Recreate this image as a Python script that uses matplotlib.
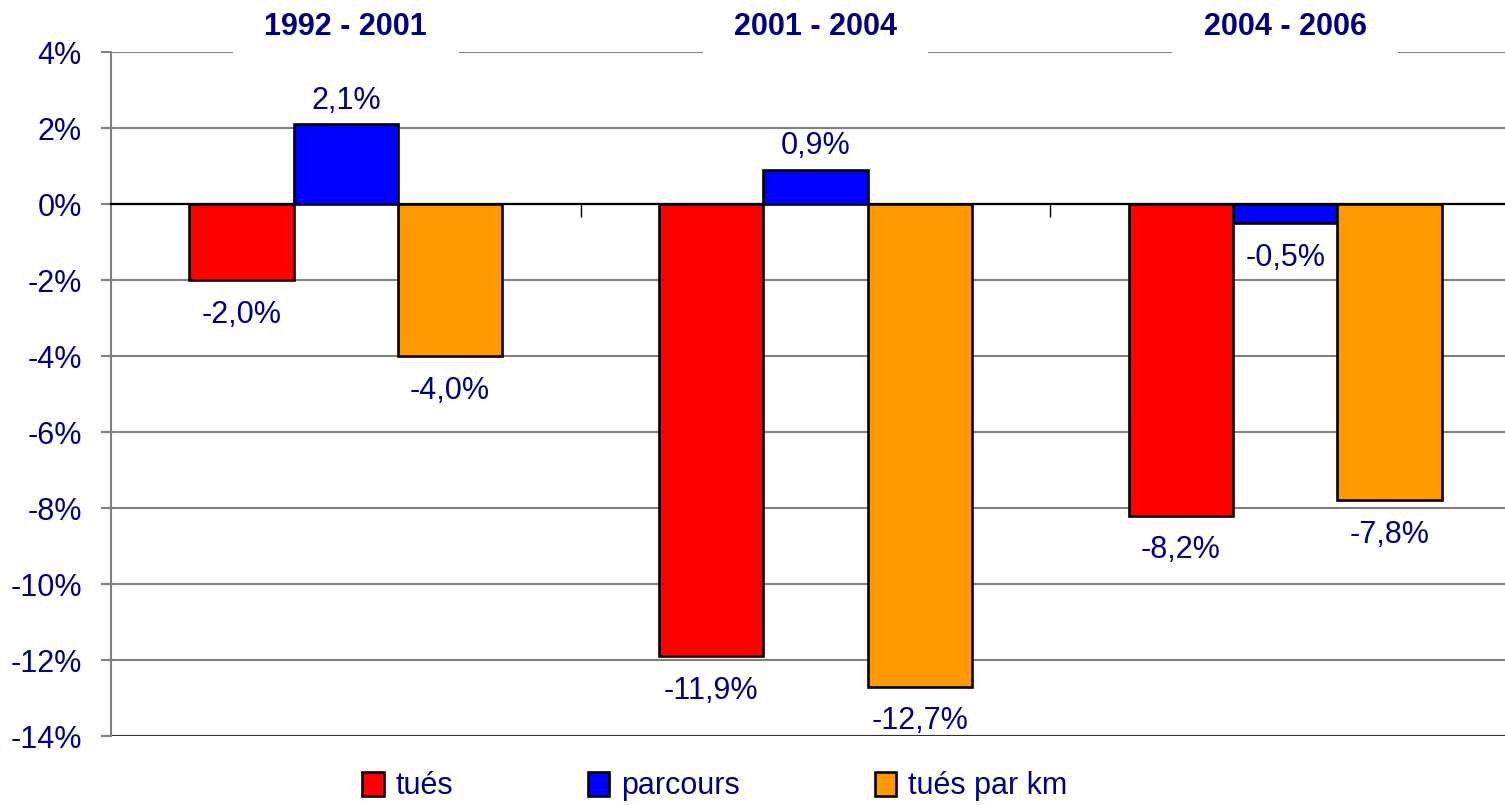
import matplotlib
matplotlib.use("Agg")
import matplotlib.pyplot as plt
from matplotlib.patches import Patch, Rectangle
import numpy as np

plt.rcParams['font.family'] = ['Liberation Sans', 'DejaVu Sans']

# data
periods = ['1992 - 2001', '2001 - 2004', '2004 - 2006']
series = ['tués', 'parcours', 'tués par km']
tues = [-2.0, -11.9, -8.2]
parcours = [2.1, 0.9, -0.5]
tues_km = [-4.0, -12.7, -7.8]
y_ticks = [4, 2, 0, -2, -4, -6, -8, -10, -12, -14]

colors = ['#FF0000', '#0000FF', '#FF9900']
navy = '#000080'
fs = 22

W, H = 1505, 805
fig = plt.figure(figsize=(W / 100, H / 100), dpi=100)
ax = fig.add_axes([111 / W, 69 / H, 1409 / W, 684 / H])

x = np.arange(len(periods))
bw = 0.222
for k, (vals, col) in enumerate(zip([tues, parcours, tues_km], colors)):
    xs = x + (k - 1) * bw
    ax.bar(xs, vals, width=bw, color=col, edgecolor='black', linewidth=1.9, zorder=3)
    for xi, v in zip(xs, vals):
        lab = f"{v:.1f}".replace('.', ',') + '%'
        off = 17 if v > 0 else -25
        ax.annotate(lab, (xi, v), xytext=(0, off), textcoords='offset points',
                    ha='center', va='center', fontsize=fs, color=navy)

ax.set_xlim(-0.5, 2.5)
ax.set_ylim(-14, 4)
ax.set_yticks(y_ticks)
ax.set_yticklabels([f"{t}%" for t in y_ticks], fontsize=fs, color=navy)
ax.tick_params(axis='y', direction='out', length=7, color='#808080', width=1.5, pad=14)

# category axis sits at zero with boundary ticks
ax.spines['bottom'].set_position(('data', 0))
ax.spines['bottom'].set_color('black')
ax.spines['bottom'].set_linewidth(1.6)
ax.set_xticks([0.5, 1.5])
ax.set_xticklabels([])
ax.tick_params(axis='x', direction='out', length=9, color='black', width=1)
ax.spines['top'].set_visible(False)
ax.spines['right'].set_visible(False)
ax.spines['left'].set_color('#808080')
ax.spines['left'].set_linewidth(1.5)

ax.yaxis.grid(True, color='#808080', linewidth=1.5)
ax.set_axisbelow(True)
ax.axhline(-14, color='#303030', linewidth=1.5, zorder=2)

# period headers over the top gridline
for i, p in enumerate(periods):
    ax.add_patch(Rectangle((i - 0.24, 3.7), 0.48, 0.8, facecolor='white',
                           edgecolor='none', clip_on=False, zorder=5))
    ax.text(i, 4.66, p, ha='center', va='center', fontsize=fs, fontweight='bold',
            color=navy, zorder=6)

handles = [Patch(facecolor=c, edgecolor='black', linewidth=1.9) for c in colors]
fig.legend(handles, series, loc='center', bbox_to_anchor=(0.475, 0.023), ncol=3,
           frameon=False, fontsize=fs, labelcolor=navy, handlelength=0.7,
           handleheight=0.8, handletextpad=0.4, columnspacing=4.4)

fig.savefig('out.png', dpi=100)
